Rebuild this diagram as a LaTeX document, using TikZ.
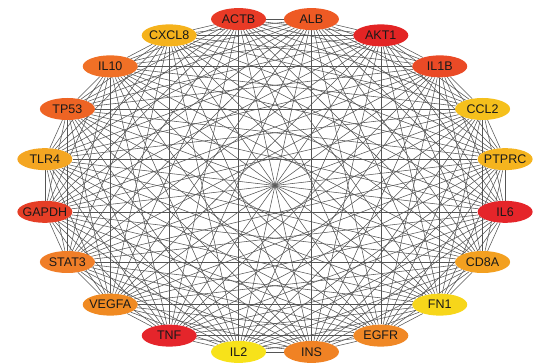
\documentclass[tikz,border=0pt]{standalone}
\usepackage{fontspec}
\setmainfont{Liberation Sans}
\usetikzlibrary{shapes.geometric,backgrounds}
\definecolor{cACTB}{HTML}{E83A26}
\definecolor{cALB}{HTML}{EE5A24}
\definecolor{cAKT1}{HTML}{E32424}
\definecolor{cIL1B}{HTML}{EA4A26}
\definecolor{cCCL2}{HTML}{F5C01C}
\definecolor{cPTPRC}{HTML}{F5B41E}
\definecolor{cIL6}{HTML}{E5252A}
\definecolor{cCD8A}{HTML}{F3A020}
\definecolor{cFN1}{HTML}{F7D61A}
\definecolor{cEGFR}{HTML}{F08826}
\definecolor{cINS}{HTML}{F08224}
\definecolor{cIL2}{HTML}{F7E21A}
\definecolor{cTNF}{HTML}{E5252B}
\definecolor{cVEGFA}{HTML}{F08A22}
\definecolor{cSTAT3}{HTML}{F07E28}
\definecolor{cGAPDH}{HTML}{E53E26}
\definecolor{cTLR4}{HTML}{F4A622}
\definecolor{cTP53}{HTML}{EE6424}
\definecolor{cIL10}{HTML}{F07026}
\definecolor{cCXCL8}{HTML}{F5B21C}
\definecolor{edgegray}{HTML}{555555}
\tikzset{
  gene/.style={shape=ellipse, minimum width=55pt, minimum height=22pt, inner sep=0pt,
    font=\fontsize{12.5}{13}\selectfont, text=black!90},
  edge/.style={draw=edgegray, line width=0.55pt}
}
\begin{document}
\begin{tikzpicture}[x=1pt,y=1pt]
\useasboundingbox (0,0) rectangle (537,363);
\foreach \nm [count=\k from 0] in {ACTB,ALB,AKT1,IL1B,CCL2,PTPRC,IL6,CD8A,FN1,EGFR,INS,IL2,TNF,VEGFA,STAT3,GAPDH,TLR4,TP53,IL10,CXCL8}{
  \pgfmathsetmacro\ang{99-18*\k}
  \node[gene, fill=c\nm] (n\k) at ({275+233*cos(\ang)},{177.5+168.5*sin(\ang)}) {\makebox[0pt]{\nm}};
}
\begin{scope}[on background layer]
\foreach \i in {0,...,18}{
  \pgfmathtruncatemacro\s{\i+1}
  \foreach \j in {\s,...,19}{
    \draw[edge] (n\i) -- (n\j);
  }
}
\end{scope}
\end{tikzpicture}
\end{document}
